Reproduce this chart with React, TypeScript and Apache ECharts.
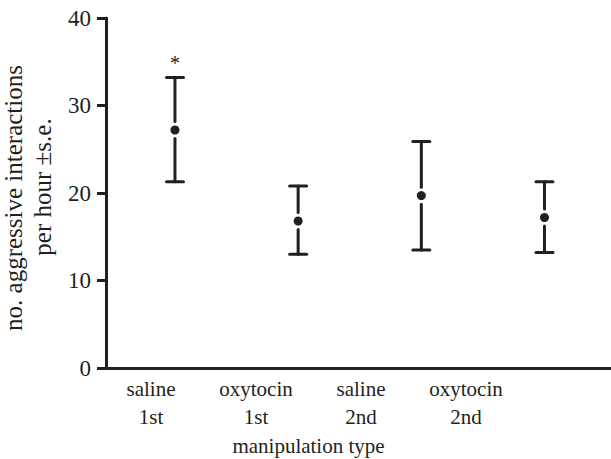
import React, { useEffect, useRef } from "react";
import * as echarts from "echarts";

const categories = ["saline\n1st", "oxytocin\n1st", "saline\n2nd", "oxytocin\n2nd"];
const means = [27.2, 16.8, 19.7, 17.2];
const upper = [33.2, 20.8, 25.9, 21.3];
const lower = [21.3, 13.0, 13.5, 13.2];
const marks = ["*", "", "", ""];
const yMin = 0;
const yMax = 40;
const yInterval = 10;

const INK = "#231f20";
const FONT = "Liberation Serif";

export default function App() {
  const ref = useRef<HTMLDivElement>(null);
  useEffect(() => {
    if (!ref.current) return;
    const chart = echarts.init(ref.current, undefined, { renderer: "svg" });
    const data = means.map((m, i) => [i, m, lower[i], upper[i]]);
    chart.setOption({
      animation: false,
      backgroundColor: "#ffffff",
      grid: [
        { left: 106, right: 0, top: 18, bottom: 91, outerBoundsMode: "none", containLabel: false },
        { left: 98.5, width: 420, top: 18, bottom: 91, outerBoundsMode: "none", containLabel: false },
      ],
      xAxis: [
        {
          type: "value",
          gridIndex: 0,
          min: -0.56,
          max: 3.54,
          axisLine: { show: true, onZero: false, lineStyle: { color: INK, width: 3 } },
          axisTick: { show: false },
          axisLabel: { show: false },
          splitLine: { show: false },
        },
        {
          type: "category",
          gridIndex: 1,
          data: categories,
          axisLine: { show: false },
          axisTick: { show: false },
          axisLabel: {
            interval: 0,
            color: INK,
            fontFamily: FONT,
            fontSize: 21,
            lineHeight: 28,
            margin: 7,
          },
          name: "manipulation type",
          nameLocation: "middle",
          nameGap: 63,
          nameTextStyle: { color: INK, fontFamily: FONT, fontSize: 21 },
        },
      ],
      yAxis: [
        {
          type: "value",
          gridIndex: 0,
          min: yMin,
          max: yMax,
          interval: yInterval,
          axisLine: { show: true, onZero: false, lineStyle: { color: INK, width: 3 } },
          axisTick: { show: true, length: 9, lineStyle: { color: INK, width: 3 } },
          axisLabel: { color: INK, fontFamily: FONT, fontSize: 23, margin: 15 },
          splitLine: { show: false },
          name: "{a|no. aggressive interactions}\n{b|per hour ±s.e.}",
          nameLocation: "middle",
          nameGap: 40,
          nameRotate: 90,
          nameTextStyle: {
            color: INK,
            fontFamily: FONT,
            fontSize: 25,
            lineHeight: 29,
            rich: {
              a: { color: INK, fontFamily: FONT, fontSize: 25, lineHeight: 29, padding: [0, 10, 0, 0] },
              b: { color: INK, fontFamily: FONT, fontSize: 25, lineHeight: 29, padding: [0, 0, 0, 12] },
            },
          },
        },
        { type: "value", gridIndex: 1, show: false, min: yMin, max: yMax },
      ],
      series: [
        {
          type: "custom",
          xAxisIndex: 0,
          yAxisIndex: 0,
          data,
          encode: { x: 0, y: 1 },
          renderItem: (params: any, api: any) => {
            const x = api.value(0);
            const m = api.coord([x, api.value(1)]);
            const lo = api.coord([x, api.value(2)]);
            const hi = api.coord([x, api.value(3)]);
            const mark = marks[params.dataIndex];
            const cap = 8.5;
            const gap = 8.5;
            const ls = { stroke: INK, lineWidth: 3, lineCap: "round" };
            const children: any[] = [
              { type: "line", shape: { x1: hi[0] - cap, y1: hi[1], x2: hi[0] + cap, y2: hi[1] }, style: ls },
              { type: "line", shape: { x1: hi[0], y1: hi[1], x2: hi[0], y2: m[1] - gap }, style: ls },
              { type: "circle", shape: { cx: m[0], cy: m[1], r: 4.5 }, style: { fill: INK } },
              { type: "line", shape: { x1: lo[0], y1: m[1] + gap, x2: lo[0], y2: lo[1] }, style: ls },
              { type: "line", shape: { x1: lo[0] - cap, y1: lo[1], x2: lo[0] + cap, y2: lo[1] }, style: ls },
            ];
            if (mark) {
              children.push({
                type: "text",
                x: hi[0],
                y: hi[1] - 5,
                style: {
                  text: mark,
                  align: "center",
                  verticalAlign: "bottom",
                  fill: INK,
                  fontSize: 20,
                  fontFamily: FONT,
                },
              });
            }
            return { type: "group", children };
          },
        },
      ],
    });
    return () => chart.dispose();
  }, []);
  return (
    <div
      ref={ref}
      style={{ position: "fixed", left: 0, top: 0, width: 611, height: 459 }}
    />
  );
}
